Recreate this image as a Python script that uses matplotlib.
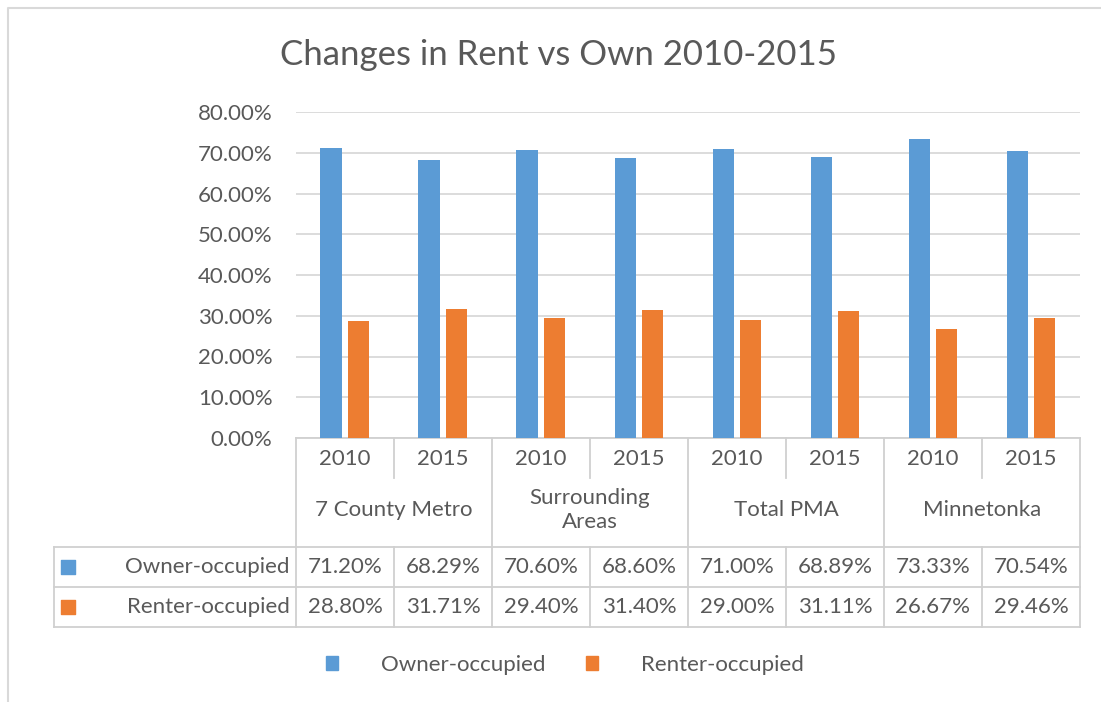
import matplotlib
matplotlib.use("Agg")
import matplotlib.pyplot as plt
from matplotlib.transforms import blended_transform_factory
from matplotlib.ticker import FuncFormatter

plt.rcParams['font.family'] = ['Lato', 'DejaVu Sans']

# ---- data ----
title = "Changes in Rent vs Own 2010-2015"
regions = ["7 County Metro", "Surrounding\nAreas", "Total PMA", "Minnetonka"]
years = ["2010", "2015"]
series_names = ["Owner-occupied", "Renter-occupied"]
owner = [71.20, 68.29, 70.60, 68.60, 71.00, 68.89, 73.33, 70.54]
renter = [28.80, 31.71, 29.40, 31.40, 29.00, 31.11, 26.67, 29.46]
y_ticks = [0, 10, 20, 30, 40, 50, 60, 70, 80]

blue = "#5B9BD5"
orange = "#ED7D31"
txt = "#595959"
grid = "#D9D9D9"
line = "#D0D0D0"

W, H = 1101, 702
fig = plt.figure(figsize=(W / 100, H / 100), dpi=100)

overlay = fig.add_axes([0, 0, 1, 1], zorder=0)
overlay.set_xlim(0, W)
overlay.set_ylim(H, 0)
overlay.axis("off")

px_l, px_r, px_top, px_bot = 296, 1080, 112, 438
ax = fig.add_axes([px_l / W, (H - px_bot) / H, (px_r - px_l) / W, (px_bot - px_top) / H], zorder=1)
ax.set_facecolor("none")

n = len(owner)
xs = list(range(n))
bw = 0.22
off = 0.14
ax.bar([x - off for x in xs], owner, width=bw, color=blue, zorder=3)
ax.bar([x + off for x in xs], renter, width=bw, color=orange, zorder=3)

fs = 16
ax.set_xlim(-0.5, n - 0.5)
ax.set_ylim(0, 80)
ax.set_yticks(y_ticks)
ax.yaxis.set_major_formatter(FuncFormatter(lambda v, p: f"{v:.2f}%"))
ax.tick_params(axis="y", length=0, pad=17, labelsize=fs, labelcolor=txt)
ax.set_xticks([])
ax.grid(axis="y", color=grid, linewidth=1.3, zorder=0)
for s in ["top", "right", "left"]:
    ax.spines[s].set_visible(False)
ax.spines["bottom"].set_color(line)
ax.spines["bottom"].set_linewidth(1.3)

# ---- title ----
overlay.text(559, 55, title, ha="center", va="center", fontsize=25, color=txt)

# ---- chart border ----
overlay.plot([8, 8, W + 5], [H + 5, 8, 8], color="#D9D9D9", lw=1.5)

# ---- data table ----
tr = blended_transform_factory(ax.transData, overlay.transData)
y_year_bot, y_cat_bot, y_row1_bot, y_row2_bot = 478, 547, 587, 627
lkw = dict(color=line, lw=1.3, clip_on=False)

# year separators within region
for k in range(len(regions)):
    xm = 2 * k + 0.5
    overlay.plot([xm, xm], [px_bot, y_year_bot], transform=tr, **lkw)
    overlay.plot([xm, xm], [y_cat_bot, y_row2_bot], transform=tr, **lkw)
# region boundaries
for k in range(len(regions) + 1):
    xb = 2 * k - 0.5
    overlay.plot([xb, xb], [px_bot, y_row2_bot], transform=tr, **lkw)
# horizontal lines of series rows
for yy in [y_cat_bot, y_row1_bot, y_row2_bot]:
    overlay.plot([54, px_r], [yy, yy], **lkw)
overlay.plot([54, 54], [y_cat_bot, y_row2_bot], **lkw)

for i in xs:
    overlay.text(i, 459, years[i % 2], transform=tr, ha="center", va="center", fontsize=fs, color=txt)
    overlay.text(i, 567, f"{owner[i]:.2f}%", transform=tr, ha="center", va="center", fontsize=fs, color=txt)
    overlay.text(i, 607, f"{renter[i]:.2f}%", transform=tr, ha="center", va="center", fontsize=fs, color=txt)
for k, r in enumerate(regions):
    overlay.text(2 * k + 0.5, 510, r, transform=tr, ha="center", va="center", fontsize=fs,
                 color=txt, linespacing=1.2)

for yy, name, c in [(567, series_names[0], blue), (607, series_names[1], orange)]:
    overlay.text(290, yy, name, ha="right", va="center", fontsize=fs, color=txt)
    overlay.scatter([67.5], [yy], marker="s", s=88, color=c, clip_on=False)

# ---- legend ----
handles = [plt.Rectangle((0, 0), 1, 1, color=blue), plt.Rectangle((0, 0), 1, 1, color=orange)]
fig.legend(handles, series_names, loc="center", bbox_to_anchor=(565 / W, 1 - 665 / H), ncol=2,
           frameon=False, fontsize=fs, labelcolor=txt, handlelength=0.55, handleheight=0.55,
           handletextpad=1.95, columnspacing=1.8)

fig.savefig("out.png", dpi=100)
